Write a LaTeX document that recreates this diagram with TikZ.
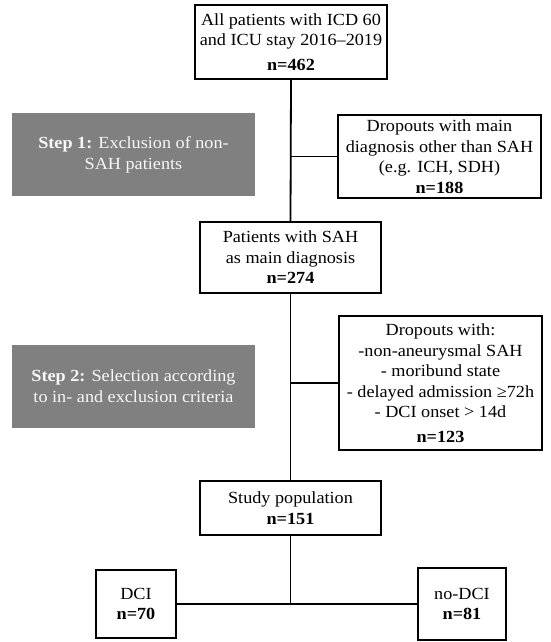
\documentclass[tikz,border=0pt]{standalone}
\usepackage{fontspec}
\setmainfont{Liberation Serif}[FakeStretch=1.07]
\begin{document}
\begin{tikzpicture}[x=1pt,y=-1pt,
  box/.style={draw=black,line width=1.8pt,fill=white,align=center,inner sep=2pt,
    font=\fontsize{17}{20.5}\selectfont},
  stepbox/.style={fill=gray,text=white!94!gray,align=center,inner sep=2pt,
    font=\fontsize{17}{21}\selectfont},
  conn/.style={line width=1.8pt}]
\useasboundingbox (0,0) rectangle (550,642);
\node[box,minimum width=192pt,minimum height=74pt] (all) at (291,42)
  {All patients with ICD 60\\and ICU stay 2016–2019\\[4pt]\textbf{n=462}};
\node[stepbox,minimum width=243pt,minimum height=83pt] (s1) at (133.5,154.5)
  {\textbf{Step 1:} Exclusion of non-\\SAH patients};
\node[box,minimum width=203pt,minimum height=83pt] (d1) at (439.5,156.5)
  {Dropouts with main\\diagnosis other than SAH\\(e.g. ICH, SDH)\\\textbf{n=188}};
\node[box,minimum width=181pt,minimum height=71pt] (sah) at (290.5,257.5)
  {Patients with SAH\\as main diagnosis\\\textbf{n=274}};
\node[stepbox,minimum width=243pt,minimum height=83pt] (s2) at (133.5,386.5)
  {\textbf{Step 2:} Selection according\\to in- and exclusion criteria};
\node[box,minimum width=203pt,minimum height=134pt] (d2) at (440.5,383)
  {Dropouts with:\\-non-aneurysmal SAH\\- moribund state\\- delayed admission ≥72h\\- DCI onset > 14d\\[4pt]\textbf{n=123}};
\node[box,minimum width=181pt,minimum height=54pt] (study) at (290.5,508)
  {Study population\\\textbf{n=151}};
\node[box,minimum width=80pt,minimum height=68pt] (dci) at (136,604)
  {DCI\\\textbf{n=70}};
\node[box,minimum width=88pt,minimum height=72pt] (nodci) at (462,604)
  {no-DCI\\\textbf{n=81}};
\coordinate (j1) at (all.south |- d1.west);
\coordinate (j2) at (sah.south |- d2.west);
\coordinate (j3) at (study.south |- dci.east);
\draw[conn] (all.south) -- (sah.north);
\draw[conn] (d1.west) -- (j1);
\draw[conn] (sah.south) -- (study.north);
\draw[conn] (d2.west) -- (j2);
\draw[conn] (study.south) -- (j3);
\draw[conn] (dci.east) -- (nodci.west);
\end{tikzpicture}
\end{document}
